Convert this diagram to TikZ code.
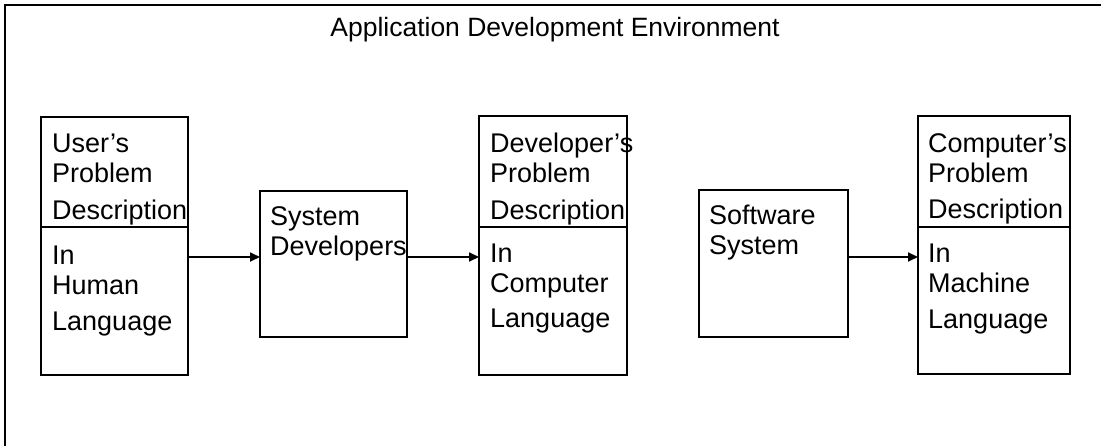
\documentclass[tikz,border=0pt]{standalone}
\usepackage{fontspec}
\setmainfont{Liberation Sans}
\usetikzlibrary{arrows.meta}
\tikzset{
  box/.style={draw, line width=1.9pt, anchor=north west, inner sep=0pt, outer sep=0pt},
  edge/.style={line width=1.9pt},
  txt/.style={anchor=north west, inner sep=0pt, align=left,
              font=\fontsize{27}{30}\selectfont},
  arr/.style={line width=1.7pt, -{Triangle[length=10pt,width=9pt]}},
  frame/.style={line width=2.6pt}
}
\begin{document}
\begin{tikzpicture}[x=1pt,y=-1pt]
\useasboundingbox (0,0) rectangle (1101,445);

% outer environment frame (runs past the page edges)
\coordinate (fb) at (5,460);
\coordinate (fc) at (5,5);
\coordinate (fr) at (1120,5);
\draw[frame] (fb) -- (fc) -- (fr);
\node[anchor=base, inner sep=0pt, font=\fontsize{26.5}{30}\selectfont] (title) at (555,36)
  {Application Development Environment};

% boxes
\node[box, minimum width=147pt, minimum height=258pt] (b1) at (41,117) {};
\node[box, minimum width=147pt, minimum height=146pt] (b2) at (260,191) {};
\node[box, minimum width=148pt, minimum height=259pt] (b3) at (479,116) {};
\node[box, minimum width=149pt, minimum height=147pt] (b4) at (699,190) {};
\node[box, minimum width=152pt, minimum height=258pt] (b5) at (918,116) {};

% dividers inside the description boxes
\draw[edge] (b1.west |- 0,227) -- (b1.east |- 0,227);
\draw[edge] (b3.west |- 0,227) -- (b3.east |- 0,227);
\draw[edge] (b5.west |- 0,227) -- (b5.east |- 0,227);

% texts
\node[txt] (t1a) at (52,134) {User’s\\Problem\\[6.5pt]Description};
\node[txt] (t1b) at (52,246) {In\\Human\\[6pt]Language};
\node[txt] (t2)  at (270,206) {System\\Developers};
\node[txt] (t3a) at (490,133) {Developer’s\\Problem\\[6.5pt]Description};
\node[txt] (t3b) at (490,244) {In\\Computer\\[5pt]Language};
\node[txt] (t4)  at (709,205) {Software\\System};
\node[txt] (t5a) at (928,133) {Computer’s\\Problem\\[6.5pt]Description};
\node[txt] (t5b) at (928,244) {In\\Machine\\[6pt]Language};

% redraw box edges over overflowing text
\foreach \b in {b1,b2,b3,b4,b5} \draw[edge] (\b.north east) -- (\b.south east);

% flow arrows
\draw[arr] (b1.east |- 0,257) -- (b2.west |- 0,257);
\draw[arr] (b2.east |- 0,257) -- (b3.west |- 0,257);
\draw[arr] (b4.east |- 0,257) -- (b5.west |- 0,257);
\end{tikzpicture}
\end{document}
